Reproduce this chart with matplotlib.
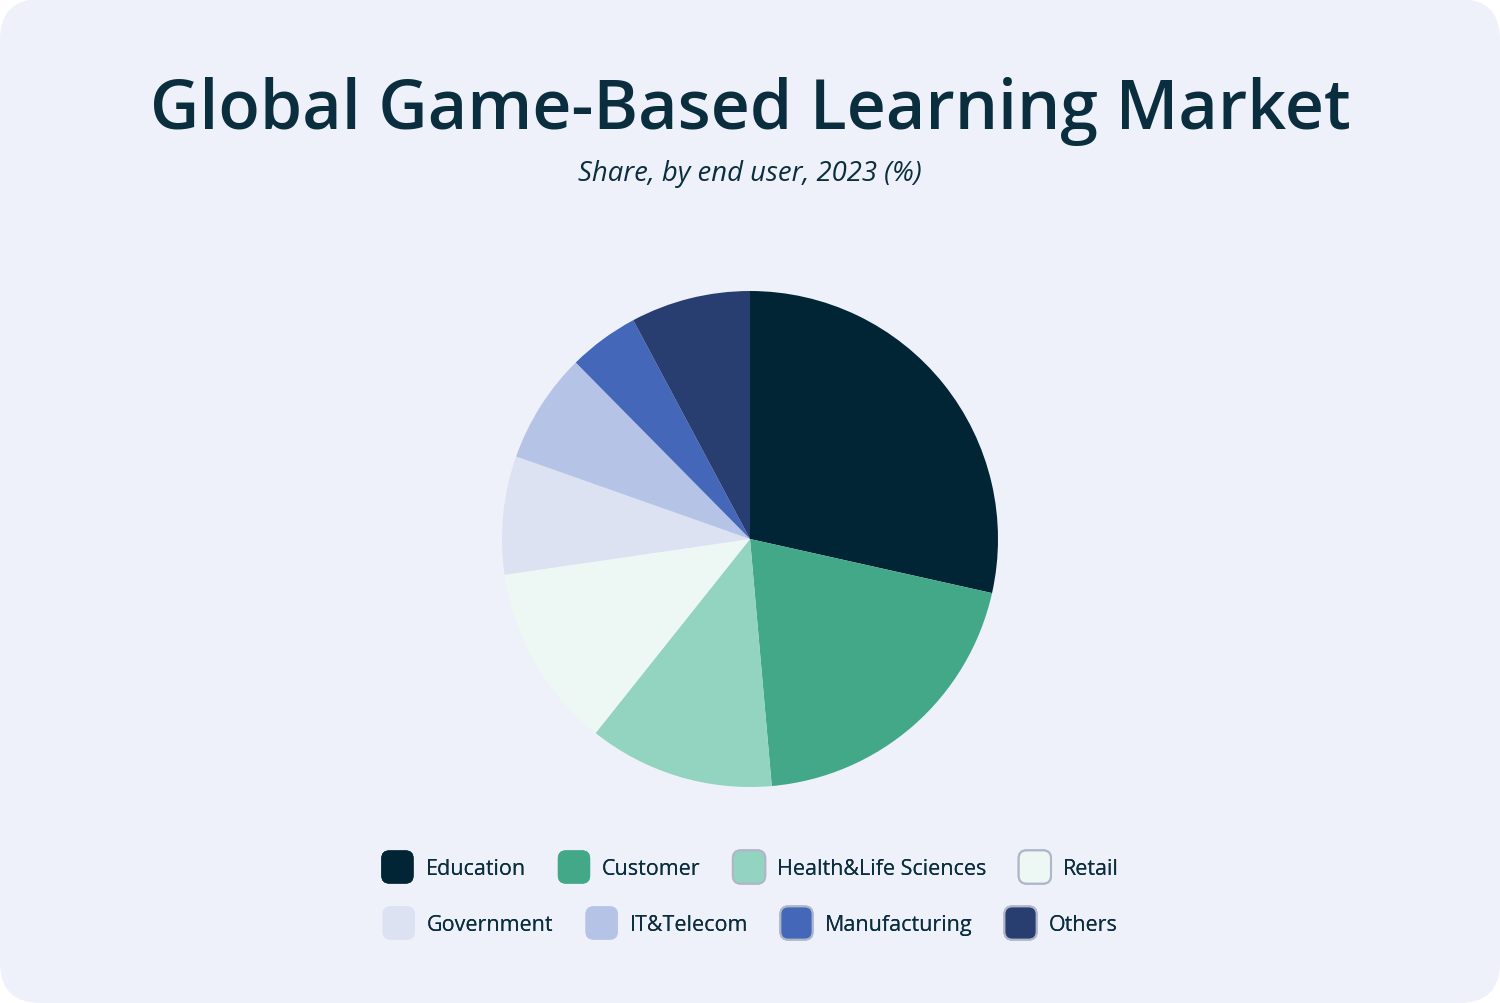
import matplotlib
matplotlib.use("Agg")
import matplotlib.pyplot as plt
from matplotlib.patches import FancyBboxPatch, Patch
from matplotlib.legend_handler import HandlerPatch

# data
labels = ["Education", "Customer", "Health&Life Sciences", "Retail",
          "Government", "IT&Telecom", "Manufacturing", "Others"]
shares = [28.5, 20.1, 12.1, 12.0, 7.7, 7.2, 4.6, 7.8]
colors = ["#022536", "#42A888", "#93D4C0", "#EDF8F5",
          "#DCE2F2", "#B5C3E6", "#4467B9", "#293E70"]
bordered = [False, False, True, True, False, False, True, True]

BG = "#EEF1F9"
TXT = "#0B2E3E"
plt.rcParams["font.family"] = ["Open Sans", "DejaVu Sans"]

fig = plt.figure(figsize=(15, 10.04), dpi=100)
fig.patch.set_facecolor("white")
card = FancyBboxPatch((0, 0), 1, 1, boxstyle="round,pad=0,rounding_size=0.027",
                      transform=fig.transFigure, fc=BG, ec="none",
                      mutation_aspect=1500 / 1004, zorder=-10)
fig.patches.append(card)

fig.text(0.5, 0.889, "Global Game-Based Learning Market", ha="center", va="center",
         fontsize=49, color=TXT, fontweight="semibold")
fig.text(0.5, 0.827, "Share, by end user, 2023 (%)", ha="center", va="center",
         fontsize=19.8, color=TXT, style="italic")

# pie
ax = fig.add_axes([(750 - 248) / 1500, (1004 - 540 - 248) / 1004, 496 / 1500, 496 / 1004])
ax.pie(shares, colors=colors, startangle=90, counterclock=False,
       wedgeprops=dict(linewidth=0))
ax.set_xlim(-1, 1)
ax.set_ylim(-1, 1)
ax.set_aspect("equal")
ax.axis("off")


class RoundHandler(HandlerPatch):
    def create_artists(self, legend, orig_handle, xdescent, ydescent,
                       width, height, fontsize, trans):
        p = FancyBboxPatch((-xdescent, -ydescent), width, height,
                           boxstyle="round,pad=0,rounding_size=%f" % (width * 0.25),
                           fc=orig_handle.get_facecolor(),
                           ec=orig_handle.get_edgecolor(),
                           lw=orig_handle.get_linewidth(), transform=trans)
        return [p]


handles = []
for c, b in zip(colors, bordered):
    handles.append(Patch(fc=c, ec="#AEB6C8" if b else c, lw=1.5 if b else 0))

rows = [(0, 4, 1 - 868 / 1004), (4, 8, 1 - 924 / 1004)]
for i0, i1, yy in rows:
    leg = fig.legend(handles[i0:i1], labels[i0:i1], loc="center", ncol=4,
                     bbox_to_anchor=(0.5, yy), frameon=False, fontsize=15.5,
                     labelcolor=TXT, handlelength=1.5, handleheight=2.0,
                     handletextpad=0.55, columnspacing=1.5,
                     handler_map={Patch: RoundHandler()})
    fig.add_artist(leg)

fig.savefig("out.png", dpi=100, facecolor=fig.get_facecolor())
